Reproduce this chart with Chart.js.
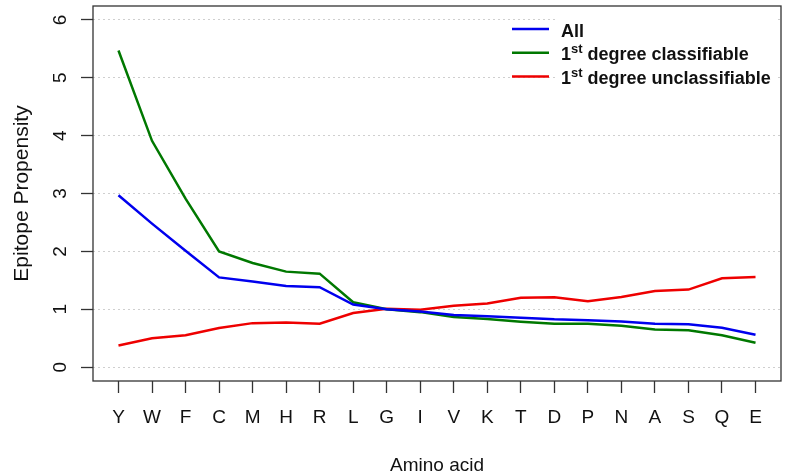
<!DOCTYPE html>
<html><head><meta charset="utf-8">
<style>html,body{margin:0;padding:0;background:#fff;}#wrap{width:787px;height:475px;position:relative;}</style>
<script src="https://cdn.jsdelivr.net/npm/chart.js@4.4.0/dist/chart.umd.min.js"></script>
</head><body><div id="wrap"><canvas id="c" width="787" height="475"></canvas></div>
<script>
const categories = ['Y','W','F','C','M','H','R','L','G','I','V','K','T','D','P','N','A','S','Q','E'];
const seriesNames = ['All', '1st degree classifiable', '1st degree unclassifiable'];
const allValues = [2.97, 2.48, 2.01, 1.55, 1.48, 1.40, 1.38, 1.08, 1.00, 0.96, 0.90, 0.88, 0.855, 0.825, 0.81, 0.79, 0.75, 0.74, 0.68, 0.56];
const classifiableValues = [5.47, 3.91, 2.91, 2.00, 1.80, 1.65, 1.615, 1.12, 1.00, 0.95, 0.865, 0.83, 0.785, 0.75, 0.75, 0.716, 0.65, 0.635, 0.55, 0.42];
const unclassifiableValues = [0.375, 0.50, 0.55, 0.675, 0.76, 0.77, 0.75, 0.935, 1.01, 0.99, 1.06, 1.10, 1.20, 1.206, 1.14, 1.21, 1.315, 1.34, 1.535, 1.555];
const yTickValues = [0, 1, 2, 3, 4, 5, 6];
const xTitle = 'Amino acid';
const yTitle = 'Epitope Propensity';
const seriesColors = ['#0000ee', '#007800', '#ee0000'];

const FONT = "'Liberation Sans', Arial, Helvetica, sans-serif";
const toPoints = vals => vals.map((v, i) => ({x: i, y: v}));

const framePlugin = {
  id: 'frame',
  afterDatasetsDraw(chart) {
    const {ctx, chartArea: a} = chart;
    ctx.save();
    ctx.strokeStyle = '#333';
    ctx.lineWidth = 1.3;
    ctx.strokeRect(a.left, a.top, a.right - a.left, a.bottom - a.top);
    ctx.restore();
  }
};

const legendPlugin = {
  id: 'rLegend',
  afterDatasetsDraw(chart) {
    const ctx = chart.ctx;
    const a = chart.chartArea;
    ctx.save();
    ctx.fillStyle = '#fff';
    ctx.fillRect(556, a.top + 2, 220, 82);
    chart.data.datasets.forEach((ds, i) => {
      const y = 29 + i * 23.8;
      ctx.strokeStyle = ds.borderColor;
      ctx.lineWidth = 2.5;
      ctx.beginPath();
      ctx.moveTo(512, y);
      ctx.lineTo(549, y);
      ctx.stroke();
      ctx.fillStyle = '#111';
      ctx.textBaseline = 'alphabetic';
      ctx.textAlign = 'left';
      const base = y + 7.5;
      let x = 561;
      const m = ds.label.match(/^(\d+)(st|nd|rd|th)(.*)$/);
      ctx.font = "bold 18px " + FONT;
      if (m) {
        ctx.fillText(m[1], x, base);
        x += ctx.measureText(m[1]).width;
        ctx.font = "bold 13px " + FONT;
        ctx.fillText(m[2], x, base - 7);
        x += ctx.measureText(m[2]).width;
        ctx.font = "bold 18px " + FONT;
        ctx.fillText(m[3], x, base);
      } else {
        ctx.fillText(ds.label, x, base);
      }
    });
    ctx.restore();
  }
};

const values = [allValues, classifiableValues, unclassifiableValues];

new Chart(document.getElementById('c'), {
  type: 'line',
  data: {
    datasets: seriesNames.map((name, i) => ({
      label: name,
      data: toPoints(values[i]),
      borderColor: seriesColors[i],
      backgroundColor: seriesColors[i],
      borderWidth: 2.5,
      pointRadius: 0,
      tension: 0,
      fill: false
    }))
  },
  options: {
    responsive: false,
    animation: false,
    devicePixelRatio: 1,
    layout: {padding: {top: 6, right: 6, left: 0, bottom: 0}},
    plugins: {legend: {display: false}, tooltip: {enabled: false}},
    scales: {
      x: {
        type: 'linear',
        min: -0.76,
        max: 19.76,
        afterBuildTicks: s => { s.ticks = categories.map((c, i) => ({value: i})); },
        afterFit: s => { s.height = 94; s.paddingLeft = 0; s.paddingRight = 0; },
        ticks: {
          autoSkip: false,
          maxRotation: 0,
          padding: 15,
          color: '#111',
          font: {family: FONT, size: 19, lineHeight: 1},
          callback: v => categories[v]
        },
        grid: {drawOnChartArea: false, drawTicks: true, tickLength: 12, tickColor: '#333', tickWidth: 1.3},
        border: {display: false},
        title: {display: true, text: xTitle, color: '#111', font: {family: FONT, size: 19, lineHeight: 1}, padding: {top: 2, bottom: 0}}
      },
      y: {
        type: 'linear',
        min: -0.24,
        max: 6.24,
        afterBuildTicks: s => { s.ticks = yTickValues.map(v => ({value: v})); },
        afterFit: s => { s.width = 93; s.paddingTop = 0; s.paddingBottom = 0; },
        ticks: {
          autoSkip: false,
          minRotation: 90,
          maxRotation: 90,
          crossAlign: 'center',
          padding: 15,
          color: '#111',
          font: {family: FONT, size: 19, lineHeight: 1},
          callback: v => String(v)
        },
        grid: {color: '#cfcfcf', lineWidth: 1, drawTicks: true, tickLength: 12, tickColor: '#333', tickWidth: 1.3, tickBorderDash: []},
        border: {display: false, dash: [2, 3]},
        title: {display: true, text: yTitle, color: '#111', font: {family: FONT, size: 21, lineHeight: 1}, padding: {top: 12, bottom: 0}}
      }
    }
  },
  plugins: [framePlugin, legendPlugin]
});
</script></body></html>
